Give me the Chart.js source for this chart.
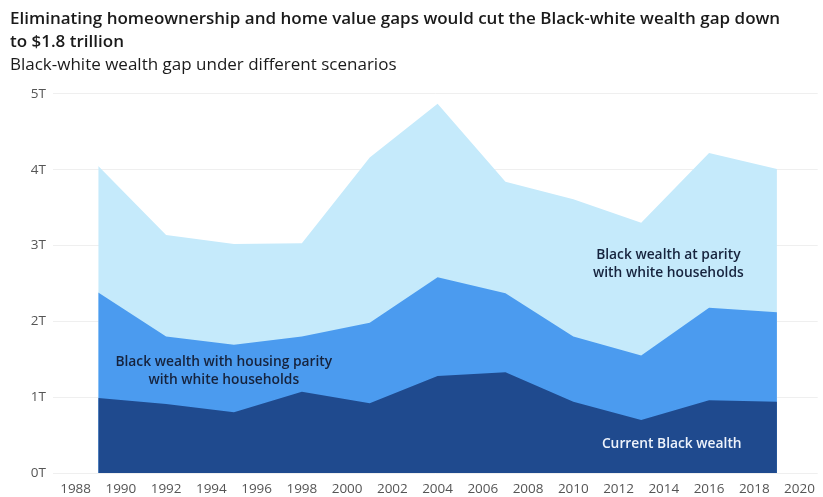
<!DOCTYPE html>
<html>
<head>
<meta charset="utf-8">
<script src="https://cdn.jsdelivr.net/npm/chart.js@4/dist/chart.umd.min.js"></script>
<style>
html,body{margin:0;padding:0;background:#fff;}
#wrap{width:823px;height:497px;position:relative;}
</style>
</head>
<body>
<div id="wrap"><canvas id="c"></canvas></div>
<script>
// Survey years and values (trillions of dollars)
const years = [1989, 1992, 1995, 1998, 2001, 2004, 2007, 2010, 2013, 2016, 2019];
const currentBlack = [0.99, 0.91, 0.80, 1.07, 0.92, 1.28, 1.33, 0.94, 0.70, 0.96, 0.94];
const housingParity = [2.38, 1.80, 1.69, 1.80, 1.98, 2.58, 2.37, 1.80, 1.55, 2.18, 2.12];
const fullParity = [4.05, 3.14, 3.02, 3.03, 4.16, 4.87, 3.84, 3.61, 3.30, 4.22, 4.01];
const xTicks = [1988, 1990, 1992, 1994, 1996, 1998, 2000, 2002, 2004, 2006, 2008, 2010, 2012, 2014, 2016, 2018, 2020];
const yTicks = [0, 1, 2, 3, 4, 5];
const titleLines = ['Eliminating homeownership and home value gaps would cut the Black-white wealth gap down', 'to $1.8 trillion'];
const subtitleText = 'Black-white wealth gap under different scenarios';
const seriesLabels = ['Current Black wealth', 'Black wealth with housing parity with white households', 'Black wealth at parity with white households'];

const pts = arr => years.map((y, i) => ({x: y, y: arr[i]}));

const FONT = '"Open Sans", "Noto Sans", sans-serif';

const annotations = [
  {x: 1994.55, y: 1.34, lines: ['Black wealth with housing parity', 'with white households'], color: '#16233d'},
  {x: 2014.2, y: 2.75, lines: ['Black wealth at parity', 'with white households'], color: '#16233d'},
  {x: 2014.35, y: 0.38, lines: ['Current Black wealth'], color: '#eef3fb'}
];

const labelPlugin = {
  id: 'areaLabels',
  afterDatasetsDraw(chart) {
    const ctx = chart.ctx;
    const xs = chart.scales.x, ys = chart.scales.y;
    ctx.save();
    ctx.font = '600 13.8px ' + FONT;
    ctx.textAlign = 'center';
    ctx.textBaseline = 'middle';
    annotations.forEach(a => {
      const cx = xs.getPixelForValue(a.x);
      const cy = ys.getPixelForValue(a.y);
      const lh = 18;
      const start = cy - (a.lines.length - 1) * lh / 2;
      ctx.fillStyle = a.color;
      a.lines.forEach((t, i) => ctx.fillText(t, cx, start + i * lh));
    });
    ctx.restore();
  }
};

new Chart(document.getElementById('c'), {
  type: 'line',
  data: {
    datasets: [
      {label: seriesLabels[0], data: pts(currentBlack), backgroundColor: '#1f4a8e', borderWidth: 0, pointRadius: 0, fill: 'origin', tension: 0},
      {label: seriesLabels[1], data: pts(housingParity), backgroundColor: '#4b9bef', borderWidth: 0, pointRadius: 0, fill: 'origin', tension: 0},
      {label: seriesLabels[2], data: pts(fullParity), backgroundColor: '#c5eafb', borderWidth: 0, pointRadius: 0, fill: 'origin', tension: 0}
    ]
  },
  options: {
    responsive: true,
    maintainAspectRatio: false,
    animation: false,
    layout: {padding: {left: 10, right: 0, top: 8, bottom: 0}},
    plugins: {
      legend: {display: false},
      tooltip: {enabled: false},
      title: {
        display: true, text: titleLines, align: 'start', color: '#1a1a1a',
        font: {family: FONT, size: 17, weight: '600', lineHeight: 1.35},
        padding: {top: 0, bottom: 0}
      },
      subtitle: {
        display: true, text: subtitleText, align: 'start', color: '#1a1a1a',
        font: {family: FONT, size: 17, weight: 'normal', lineHeight: 1.35},
        padding: {top: 0, bottom: 17}
      }
    },
    scales: {
      x: {
        type: 'linear', min: 1987, max: 2020.8,
        afterBuildTicks: s => { s.ticks = xTicks.map(v => ({value: v})); },
        afterFit: s => { s.height = 24; },
        grid: {display: false, drawTicks: false},
        border: {display: false},
        ticks: {color: '#555', font: {family: FONT, size: 13.5}, padding: 8, maxRotation: 0, autoSkip: false, callback: v => String(v)}
      },
      y: {
        min: 0, max: 5,
        afterBuildTicks: s => { s.ticks = yTicks.map(v => ({value: v})); },
        afterFit: s => { s.width = 43; },
        grid: {color: '#efefef', drawTicks: false, lineWidth: 1},
        border: {display: false},
        ticks: {color: '#555', font: {family: FONT, size: 13.5}, padding: 7, callback: v => v + 'T'}
      }
    }
  },
  plugins: [labelPlugin]
});
</script>
</body>
</html>
